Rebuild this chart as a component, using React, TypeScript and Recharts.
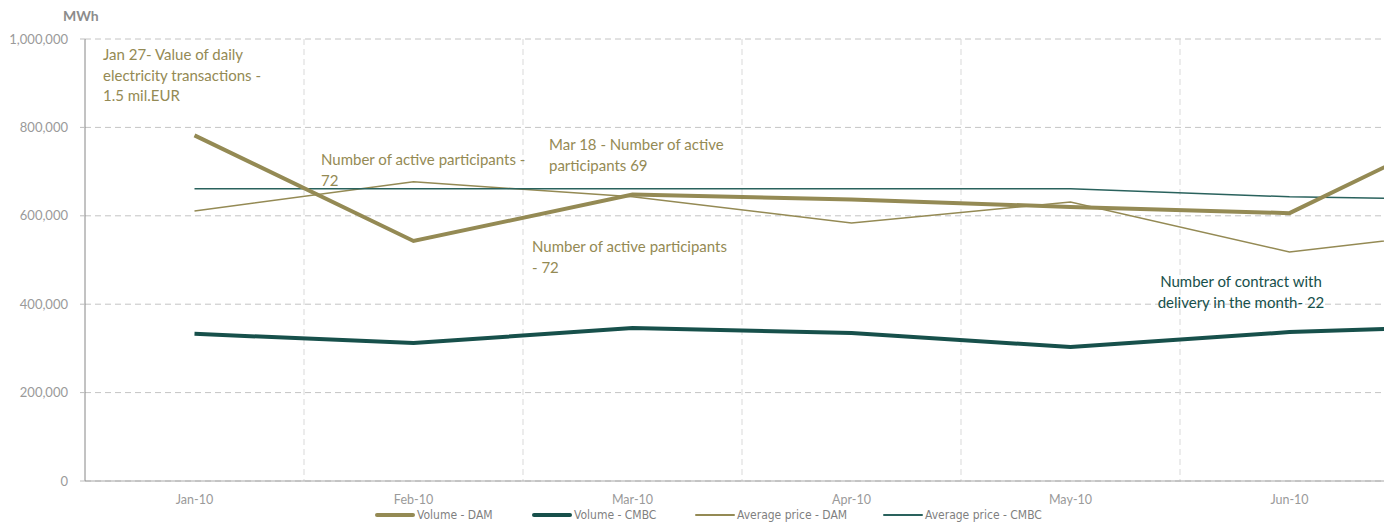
import { CartesianGrid, Line, LineChart, XAxis, YAxis } from "recharts";

// Monthly volumes and prices, Jan-Jul 2010 (Jul is only partly in view)
const months = ["Jan-10", "Feb-10", "Mar-10", "Apr-10", "May-10", "Jun-10", "Jul-10"];
const volumeDam = [782000, 543000, 648000, 637000, 620000, 606000, 846000];
const volumeCmbc = [333000, 312000, 346000, 335000, 303000, 337000, 353000];
const avgPriceDam = [611000, 677000, 643000, 584000, 631000, 518000, 576000];
const avgPriceCmbc = [661000, 661000, 661000, 661000, 661000, 643000, 636000];
const yTicks = [0, 200000, 400000, 600000, 800000, 1000000];
const xTicks = months.slice(0, 6);

const data = months.map((month, i) => ({
  month,
  volumeDam: volumeDam[i],
  volumeCmbc: volumeCmbc[i],
  avgPriceDam: avgPriceDam[i],
  avgPriceCmbc: avgPriceCmbc[i],
}));

const OLIVE = "#948a54";
const TEAL = "#17504b";
const TEAL_THIN = "#2a625d";
const FONT = "Lato, 'Open Sans', sans-serif";

const legendItems = [
  { label: "Volume - DAM", color: OLIVE, width: 4, left: 375 },
  { label: "Volume - CMBC", color: TEAL, width: 4, left: 532 },
  { label: "Average price - DAM", color: OLIVE, width: 1.5, left: 695 },
  { label: "Average price - CMBC", color: TEAL_THIN, width: 1.5, left: 883 },
];

const notes = [
  { text: "Jan 27- Value of daily\nelectricity transactions -\n1.5 mil.EUR", left: 103, top: 44, color: OLIVE, align: "left" },
  { text: "Number of active participants -\n72", left: 321, top: 149, color: OLIVE, align: "left" },
  { text: "Mar 18 - Number of active\nparticipants 69", left: 549, top: 134, color: OLIVE, align: "left" },
  { text: "Number of active participants\n- 72", left: 532, top: 236, color: OLIVE, align: "left" },
  { text: "Number of contract with\ndelivery in the month- 22", left: 1131, top: 271, color: TEAL, align: "center", width: 220 },
];

export default function App() {
  return (
    <div
      style={{
        position: "fixed",
        left: 0,
        top: 0,
        width: 1384,
        height: 523,
        overflow: "hidden",
        background: "#fff",
        fontFamily: FONT,
      }}
    >
      <div style={{ position: "absolute", left: 63, top: 7, fontSize: 14, fontWeight: 700, color: "#8c8c8c" }}>MWh</div>

      <LineChart width={1640} height={523} data={data} margin={{ top: 39, right: 22, bottom: 12, left: 0 }}>
        <CartesianGrid vertical={false} stroke="#c4c4c4" strokeDasharray="6 4" />
        <CartesianGrid
          horizontal={false}
          stroke="#d9d9d9"
          strokeDasharray="6 4"
          verticalCoordinatesGenerator={({ offset }: any) =>
            months.slice(1).map((_, i) => offset.left + ((i + 1) * offset.width) / months.length)
          }
        />
        <XAxis
          dataKey="month"
          scale="band"
          ticks={xTicks}
          height={30}
          axisLine={{ stroke: "#a6a6a6" }}
          tickLine={false}
          tickSize={6}
          tickMargin={8}
          tick={{ fill: "#9a9a9a", fontSize: 12.5, fontFamily: FONT }}
        />
        <YAxis
          width={85}
          domain={[0, 1000000]}
          ticks={yTicks}
          interval={0}
          axisLine={{ stroke: "#868686" }}
          tickLine={{ stroke: "#bdbdbd" }}
          tickSize={5}
          tickMargin={12}
          tick={{ fill: "#9a9a9a", fontSize: 13, fontFamily: FONT }}
          tickFormatter={(v: number) => v.toLocaleString("en-US")}
        />
        <Line dataKey="avgPriceDam" stroke={OLIVE} strokeWidth={1.5} dot={false} isAnimationActive={false} />
        <Line dataKey="avgPriceCmbc" stroke={TEAL_THIN} strokeWidth={1.5} dot={false} isAnimationActive={false} />
        <Line dataKey="volumeDam" stroke={OLIVE} strokeWidth={4} dot={false} isAnimationActive={false} />
        <Line dataKey="volumeCmbc" stroke={TEAL} strokeWidth={4} dot={false} isAnimationActive={false} />
      </LineChart>

      {notes.map((n) => (
        <div
          key={n.text}
          style={{
            position: "absolute",
            left: n.left,
            top: n.top,
            width: n.width,
            whiteSpace: "pre",
            textAlign: n.align as any,
            color: n.color,
            fontSize: 15,
            lineHeight: "20.5px",
          }}
        >
          {n.text}
        </div>
      ))}

      {legendItems.map((item) => (
        <div
          key={item.label}
          style={{
            position: "absolute",
            left: item.left,
            top: 508,
            display: "flex",
            alignItems: "center",
            gap: 2,
            fontSize: 12,
            fontFamily: "'DejaVu Sans Condensed', 'Liberation Sans Narrow', sans-serif",
            color: "#7f7f7f",
            whiteSpace: "nowrap",
          }}
        >
          <span
            style={{
              display: "inline-block",
              width: 40,
              height: item.width,
              background: item.color,
              borderRadius: 2,
            }}
          />
          <span>{item.label}</span>
        </div>
      ))}
    </div>
  );
}
